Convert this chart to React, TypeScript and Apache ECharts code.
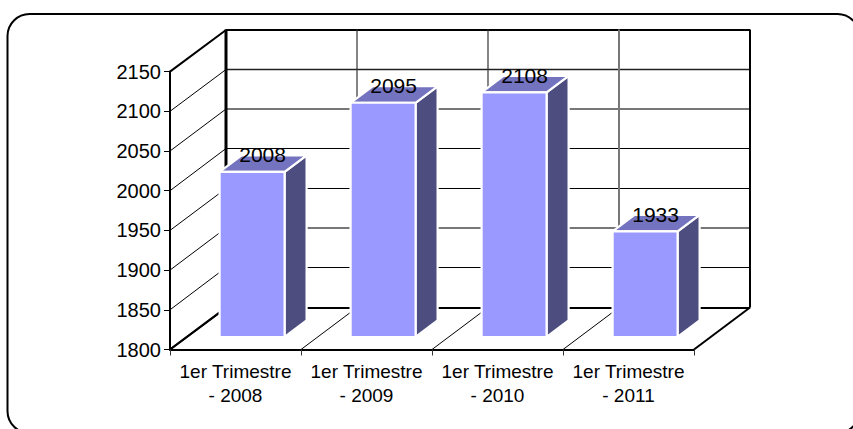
import React, { useEffect, useRef } from "react";
import * as echarts from "echarts";

const categories = ["1er Trimestre\n- 2008", "1er Trimestre\n- 2009", "1er Trimestre\n- 2010", "1er Trimestre\n- 2011"];
const values = [2008, 2095, 2108, 1933];
const yTicks = [1800, 1850, 1900, 1950, 2000, 2050, 2100, 2150];
const boundaries = [0, 1, 2, 3, 4];

const FONT = '"Liberation Sans", Arial, sans-serif';
const WALL_DX = 56;
const WALL_DY = 42;
const BAR_DX = 16.6;
const BAR_DY = 12.5;
const BAR_W = 65;
const SIDE_DX = 22;
const SIDE_DY = 16.5;

const backLineStyle = (t: number) => {
  if (t === 1800 || t === 2150) return { w: 2, c: "#000", crisp: false };
  if (t === 1900 || t === 2050) return { w: 2, c: "#777", crisp: false };
  if (t === 2100) return { w: 1.3, c: "#222", crisp: true };
  return { w: 1, c: "#000", crisp: true };
};
const backVerticalStyle = (b: number) => {
  if (b === 0) return { w: 3, c: "#000" };
  if (b === 4) return { w: 2, c: "#000" };
  if (b === 3) return { w: 2, c: "#777" };
  return { w: 1.2, c: "#333" };
};

export default function App() {
  const ref = useRef<HTMLDivElement>(null);
  useEffect(() => {
    document.body.style.margin = "0";
    const chart = echarts.init(ref.current!, undefined, { renderer: "svg" });
    const lineEl = (x1: number, y1: number, x2: number, y2: number, w: number, color = "#000") => ({
      type: "line",
      shape: { x1, y1, x2, y2 },
      style: { stroke: color, lineWidth: w },
    });
    chart.setOption({
      animation: false,
      backgroundColor: "#fff",
      graphic: [
        {
          type: "rect",
          shape: { x: 7.5, y: 14, width: 852, height: 419, r: 22 },
          style: { fill: "#fff", stroke: "#000", lineWidth: 2 },
          z: -10,
        },
      ],
      grid: { left: 170, top: 71.6, width: 524, height: 277.9 },
      xAxis: {
        type: "category",
        data: categories,
        axisLine: { show: true, lineStyle: { color: "#000", width: 2 } },
        axisTick: { show: true, length: 6, lineStyle: { color: "#333", width: 1 } },
        axisLabel: { color: "#000", fontFamily: FONT, fontSize: 19, lineHeight: 24, margin: 10, interval: 0 },
        z: 5,
      },
      yAxis: {
        type: "value",
        min: 1800,
        max: 2150,
        interval: 50,
        axisLine: { show: true, lineStyle: { color: "#000", width: 2 } },
        axisTick: { show: true, length: 6, lineStyle: { color: "#000", width: 1 } },
        axisLabel: { color: "#000", fontFamily: FONT, fontSize: 20, margin: 9, formatter: (v: number) => String(v) },
        splitLine: { show: false },
        z: 5,
      },
      series: [
        {
          type: "custom",
          coordinateSystem: "cartesian2d",
          z: 1,
          clip: false,
          data: yTicks.map((t) => [0, t]),
          renderItem: (_p: any, api: any) => {
            const band = api.size([1, 0])[0];
            const t = api.value(1);
            const c = api.coord([0, t]);
            const x0 = c[0] - band / 2;
            const edge = t === 1800 || t === 2150;
            const s = backLineStyle(t);
            const raw = c[1] - WALL_DY;
            const yb = s.crisp ? Math.floor(raw) + 0.5 : Math.round(raw);
            return {
              type: "group",
              children: [
                lineEl(x0, c[1], x0 + WALL_DX, yb, edge ? 2 : 1),
                lineEl(x0 + WALL_DX, yb, x0 + WALL_DX + band * 4, yb, s.w, s.c),
              ],
            };
          },
        },
        {
          type: "custom",
          coordinateSystem: "cartesian2d",
          z: 1,
          clip: false,
          data: boundaries.map((b) => [b, 1800]),
          renderItem: (_p: any, api: any) => {
            const band = api.size([1, 0])[0];
            const b = api.value(0);
            const bottom = api.coord([0, 1800]);
            const top = api.coord([0, 2150]);
            const x = bottom[0] - band / 2 + b * band;
            const isEnd = b === 0 || b === 4;
            const s = backVerticalStyle(b);
            return {
              type: "group",
              children: [
                lineEl(x + WALL_DX, bottom[1] - WALL_DY, x + WALL_DX, top[1] - WALL_DY, s.w, s.c),
                lineEl(x, bottom[1], x + WALL_DX, bottom[1] - WALL_DY, isEnd ? 2 : 1),
              ],
            };
          },
        },
        {
          type: "custom",
          coordinateSystem: "cartesian2d",
          z: 3,
          clip: false,
          data: values.map((v, i) => [i, v]),
          renderItem: (_p: any, api: any) => {
            const i = api.value(0);
            const v = api.value(1);
            const top = api.coord([i, v]);
            const bottom = api.coord([i, 1800]);
            const xl = top[0] + BAR_DX - BAR_W / 2;
            const xr = xl + BAR_W;
            const yt = top[1] - BAR_DY;
            const yb = bottom[1] - BAR_DY;
            const border = { stroke: "#fff", lineWidth: 2.2, lineJoin: "miter" };
            return {
              type: "group",
              children: [
                {
                  type: "polygon",
                  shape: { points: [[xr, yt], [xr + SIDE_DX, yt - SIDE_DY], [xr + SIDE_DX, yb - SIDE_DY], [xr, yb]] },
                  style: { fill: "#4D4D80", ...border },
                },
                {
                  type: "polygon",
                  shape: { points: [[xl, yt], [xl + SIDE_DX, yt - SIDE_DY], [xr + SIDE_DX, yt - SIDE_DY], [xr, yt]] },
                  style: { fill: "#7373BF", ...border },
                },
                {
                  type: "rect",
                  shape: { x: xl, y: yt, width: BAR_W, height: yb - yt },
                  style: { fill: "#9999FF", ...border },
                },
                {
                  type: "text",
                  x: xl + BAR_W / 2 + 10.5,
                  y: yt - 17,
                  style: {
                    text: String(v),
                    fill: "#000",
                    font: `21px ${FONT}`,
                    align: "center",
                    verticalAlign: "middle",
                  },
                },
              ],
            };
          },
        },
      ],
    });
    return () => chart.dispose();
  }, []);
  return <div ref={ref} style={{ width: 853, height: 429 }} />;
}
